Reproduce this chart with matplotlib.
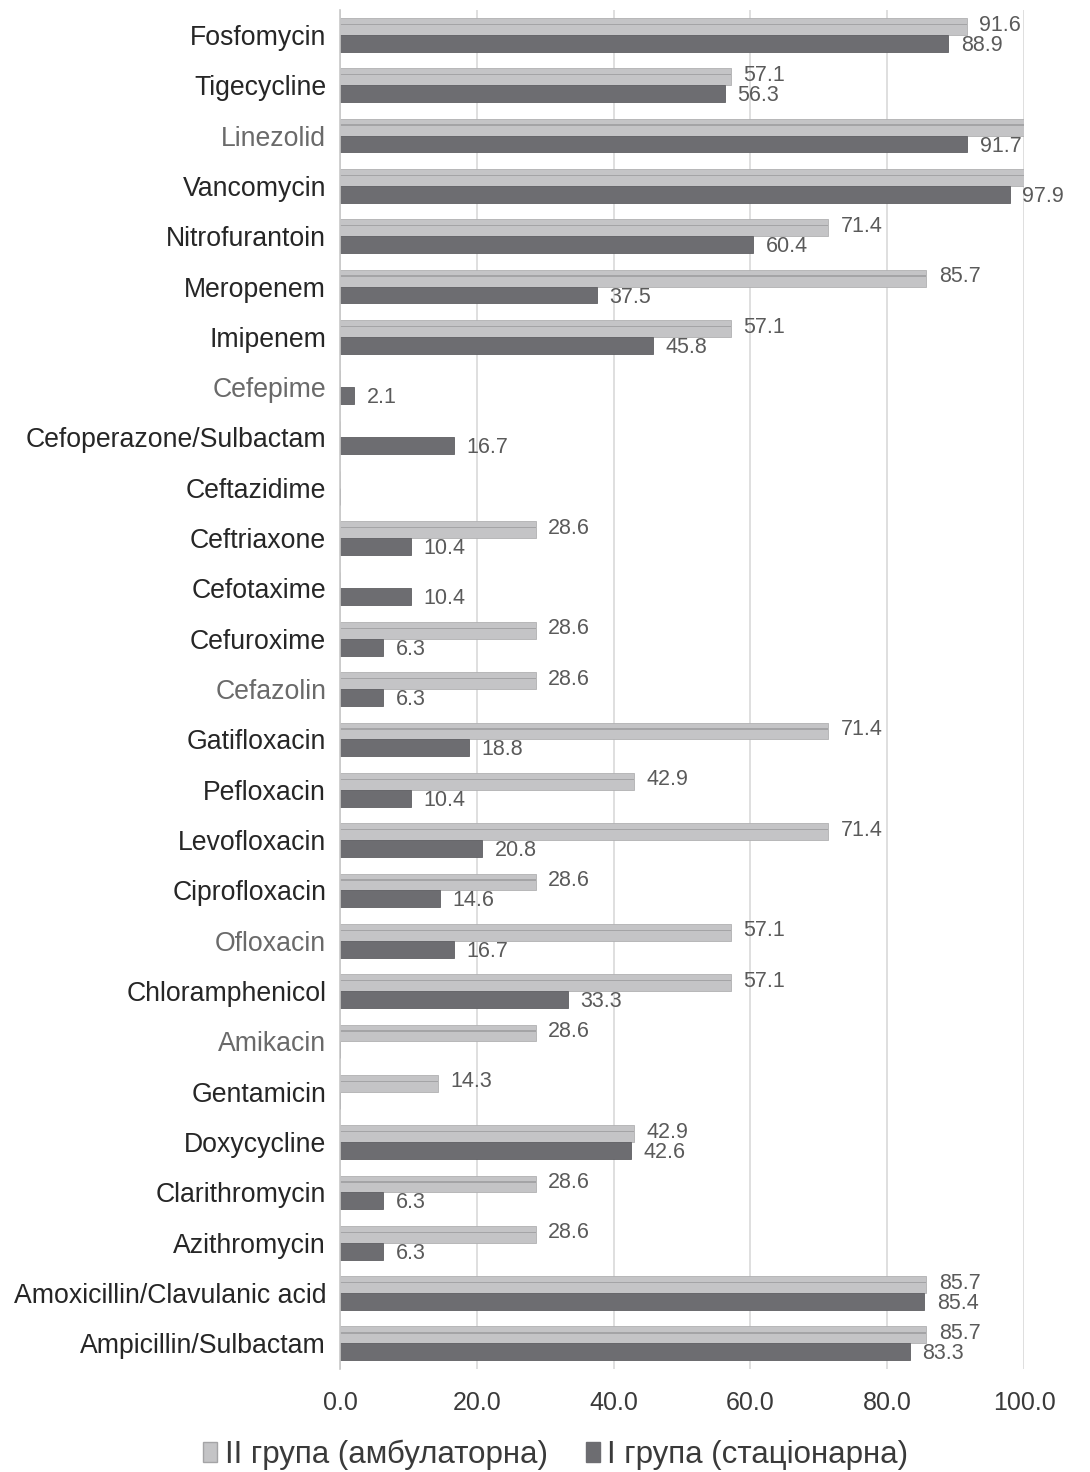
import numpy as np
import matplotlib.pyplot as plt
from matplotlib.patches import Patch

plt.rcParams['font.family'] = ['Liberation Sans', 'DejaVu Sans']

## Data (top to bottom)
drugs = ['Fosfomycin', 'Tigecycline', 'Linezolid', 'Vancomycin', 'Nitrofurantoin',
         'Meropenem', 'Imipenem', 'Cefepime', 'Cefoperazone/Sulbactam', 'Ceftazidime',
         'Ceftriaxone', 'Cefotaxime', 'Cefuroxime', 'Cefazolin', 'Gatifloxacin',
         'Pefloxacin', 'Levofloxacin', 'Ciprofloxacin', 'Ofloxacin', 'Chloramphenicol',
         'Amikacin', 'Gentamicin', 'Doxycycline', 'Clarithromycin', 'Azithromycin',
         'Amoxicillin/Clavulanic acid', 'Ampicillin/Sulbactam']
group2 = [91.6, 57.1, 100.0, 100.0, 71.4, 85.7, 57.1, 0, 0, 0,
          28.6, 0, 28.6, 28.6, 71.4, 42.9, 71.4, 28.6, 57.1, 57.1,
          28.6, 14.3, 42.9, 28.6, 28.6, 85.7, 85.7]
group1 = [88.9, 56.3, 91.7, 97.9, 60.4, 37.5, 45.8, 2.1, 16.7, 0,
          10.4, 10.4, 6.3, 6.3, 18.8, 10.4, 20.8, 14.6, 16.7, 33.3,
          0, 0, 42.6, 6.3, 6.3, 85.4, 83.3]
pale_labels = ['Linezolid', 'Cefepime', 'Cefazolin', 'Ofloxacin', 'Amikacin']
legend_names = ['II група (амбулаторна)', 'I група (стаціонарна)']
xticks = [0, 20, 40, 60, 80, 100]

light = '#c4c4c6'
light_line = '#a4a4a6'
dark = '#6d6d71'

fig = plt.figure(figsize=(10.9, 14.72), dpi=100)
ax = fig.add_axes([0.312, 0.0703, 0.6275, 0.9231])

y = np.arange(len(drugs))
h = 0.335

ax.barh(y - h / 2, group2, height=h, color=light, edgecolor='#b0b0b2', linewidth=0.6, zorder=3)
# thin darker stripe inside the light bars
ax.barh(y - h * 0.62, group2, height=h * 0.08, color=light_line, linewidth=0, zorder=4)
ax.barh(y + h / 2, group1, height=h, color=dark, edgecolor='#5f5f63', linewidth=0.6, zorder=3)

for i in range(len(drugs)):
    if 0 < group2[i] < 100:
        ax.annotate(f'{group2[i]:.1f}', (group2[i], y[i] - h / 2), xytext=(9, 1),
                    textcoords='offset points', va='center', ha='left',
                    fontsize=15.5, color='#5a5a5a')
    if group1[i] > 0:
        ax.annotate(f'{group1[i]:.1f}', (group1[i], y[i] + h / 2), xytext=(9, -1.5),
                    textcoords='offset points', va='center', ha='left',
                    fontsize=15.5, color='#5a5a5a')

ax.set_ylim(len(drugs) - 0.5, -0.5)
ax.set_xlim(0, 100)
ax.set_yticks(y)
ax.set_yticklabels(drugs, fontsize=19.2)
for lbl in ax.get_yticklabels():
    lbl.set_color('#6a6a6a' if lbl.get_text() in pale_labels else '#262626')
ax.set_xticks(xticks)
ax.set_xticklabels([f'{t:.1f}' for t in xticks], fontsize=18, color='#3a3a3a')
ax.tick_params(axis='y', length=0, pad=10)
ax.tick_params(axis='x', length=0, pad=16)

ax.grid(axis='x', color='#d9d9d9', linewidth=1.2, zorder=0)
for s in ['top', 'right', 'bottom']:
    ax.spines[s].set_visible(False)
ax.spines['left'].set_color('#c8c8c8')
ax.spines['left'].set_linewidth(1.2)
ax.spines['left'].set_zorder(5)

handles = [Patch(facecolor=light, edgecolor=light_line), Patch(facecolor=dark, edgecolor=dark)]
fig.legend(handles, legend_names, loc='center', bbox_to_anchor=(0.51, 1 - 1455 / 1472),
           ncol=2, frameon=False, fontsize=22.5, handlelength=0.45, handleheight=0.6,
           handletextpad=0.25, columnspacing=1.2, labelcolor='#3a3a3a')

fig.savefig('out.png', dpi=100)
